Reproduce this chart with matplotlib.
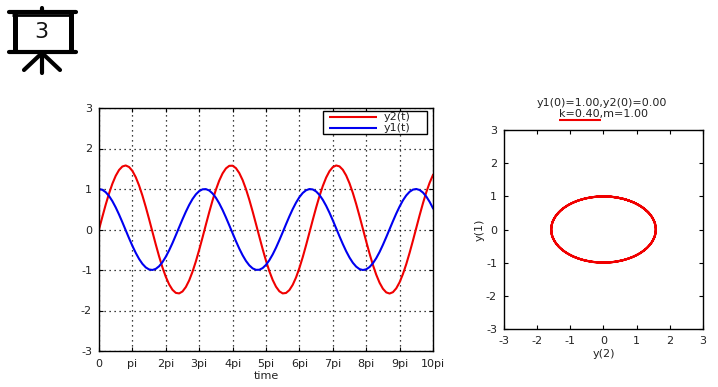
import matplotlib
matplotlib.use("Agg")
import matplotlib.pyplot as plt
from matplotlib.patches import Rectangle

W, H = 718, 387

# time in units of pi, read every 0.1pi
t_pi = [i / 10 for i in range(101)]

y1 = [1.000, 0.980, 0.922, 0.828, 0.701, 0.546, 0.370, 0.179, -0.019, -0.216,
      -0.404, -0.577, -0.727, -0.848, -0.936, -0.987, -0.999, -0.972, -0.907, -0.806,
      -0.673, -0.514, -0.335, -0.142, 0.056, 0.252, 0.438, 0.607, 0.752, 0.867,
      0.948, 0.992, 0.997, 0.963, 0.890, 0.783, 0.645, 0.482, 0.299, 0.105,
      -0.093, -0.288, -0.472, -0.636, -0.776, -0.885, -0.960, -0.996, -0.994, -0.952,
      -0.873, -0.759, -0.616, -0.449, -0.263, -0.068, 0.131, 0.324, 0.504, 0.664,
      0.799, 0.902, 0.969, 0.999, 0.989, 0.940, 0.854, 0.734, 0.586, 0.415,
      0.227, 0.030, -0.168, -0.359, -0.536, -0.692, -0.821, -0.917, -0.978, -1.000,
      -0.983, -0.927, -0.834, -0.709, -0.556, -0.380, -0.190, 0.007, 0.204, 0.394,
      0.567, 0.720, 0.842, 0.932, 0.985, 1.000, 0.975, 0.912, 0.813, 0.682, 0.524]

y2 = [0.000, 0.311, 0.612, 0.887, 1.129, 1.325, 1.469, 1.556, 1.581, 1.543,
      1.447, 1.292, 1.086, 0.838, 0.557, 0.255, -0.058, -0.370, -0.666, -0.936,
      -1.168, -1.356, -1.489, -1.565, -1.578, -1.530, -1.421, -1.257, -1.042, -0.787,
      -0.501, -0.196, 0.119, 0.427, 0.719, 0.983, 1.208, 1.385, 1.508, 1.572,
      1.575, 1.515, 1.394, 1.221, 0.998, 0.735, 0.444, 0.136, -0.177, -0.484,
      -0.772, -1.029, -1.246, -1.413, -1.526, -1.578, -1.567, -1.496, -1.366, -1.183,
      -0.950, -0.683, -0.387, -0.077, 0.236, 0.539, 0.822, 1.072, 1.281, 1.439,
      1.540, 1.581, 1.559, 1.475, 1.334, 1.141, 0.903, 0.629, 0.330, 0.019,
      -0.294, -0.594, -0.873, -1.115, -1.314, -1.462, -1.553, -1.581, -1.548, -1.453,
      -1.303, -1.099, -0.854, -0.574, -0.272, 0.041, 0.353, 0.650, 0.922, 1.156, 1.347]

x_ticks = [0, 1, 2, 3, 4, 5, 6, 7, 8, 9, 10]
x_labels = ["0", "pi", "2pi", "3pi", "4pi", "5pi", "6pi", "7pi", "8pi", "9pi", "10pi"]
y_ticks = [-3, -2, -1, 0, 1, 2, 3]

RED = "#f00000"
BLUE = "#0000f0"
TXT = "#222222"

plt.rcParams["font.family"] = "DejaVu Sans"
plt.rcParams["font.size"] = 8
plt.rcParams["axes.unicode_minus"] = False
plt.rcParams["path.simplify"] = False


def px_axes(fig, x0, y0, x1, y1_):
    # axes placed by pixel box, y measured from the top
    return fig.add_axes([x0 / W, 1 - y1_ / H, (x1 - x0) / W, (y1_ - y0) / H])


def style(ax):
    ax.tick_params(direction="in", top=True, right=True, length=3, width=0.8,
                   pad=5, labelsize=8, color="black", labelcolor=TXT)
    for s in ax.spines.values():
        s.set_linewidth(1.0)


fig = plt.figure(figsize=(W / 100, H / 100), dpi=100)

ax1 = px_axes(fig, 99, 108, 433, 351)
ax1.plot(t_pi, y2, color=RED, lw=1.5)
ax1.plot(t_pi, y1, color=BLUE, lw=1.5)
ax1.set_xlim(0, 10)
ax1.set_ylim(-3, 3)
ax1.set_xticks(x_ticks)
ax1.set_xticklabels(x_labels)
ax1.set_yticks(y_ticks)
ax1.grid(True, color="black", linestyle=(0, (1, 3)), linewidth=0.9)
ax1.set_axisbelow(True)
style(ax1)
ax1.tick_params(axis="x", pad=6)
ax1.set_xlabel("time", labelpad=1, fontsize=8, color=TXT)

ax2 = px_axes(fig, 504, 130, 703, 329)
ax2.plot(y2, y1, color=RED, lw=1.5)
ax2.set_xlim(-3, 3)
ax2.set_ylim(-3, 3)
ax2.set_xticks(y_ticks)
ax2.set_yticks(y_ticks)
style(ax2)
ax2.set_xlabel("y(2)", labelpad=2, fontsize=8, color=TXT)
ax2.set_ylabel("y(1)", labelpad=1, fontsize=8, color=TXT)

# overlay in pixel coordinates for the legend, icon, heading and underline
ov = fig.add_axes([0, 0, 1, 1], zorder=5)
ov.set_xlim(0, W)
ov.set_ylim(H, 0)
ov.axis("off")
ov.patch.set_alpha(0)

ov.add_patch(Rectangle((322.5, 110.5), 104.5, 23.5, facecolor="white", edgecolor="black", lw=1.0))
ov.plot([329, 377], [116.5, 116.5], color=RED, lw=1.5, solid_capstyle="butt")
ov.plot([329, 377], [128, 128], color=BLUE, lw=1.5, solid_capstyle="butt")
ov.text(384, 116.5, "y2(t)", ha="left", va="center", fontsize=8, color=TXT)
ov.text(384, 128, "y1(t)", ha="left", va="center", fontsize=8, color=TXT)

ov.text(602, 102.5, "y1(0)=1.00,y2(0)=0.00", ha="center", va="center", fontsize=8, color=TXT)
ov.text(603, 114.5, "k=0.40,m=1.00", ha="center", va="center", fontsize=8, color=TXT)
ov.plot([559, 601], [120, 120], color=RED, lw=1.5, solid_capstyle="butt")

icon = dict(color="black", lw=3.0, solid_capstyle="round")
ov.plot([9, 76], [12, 12], **icon)
ov.plot([9, 76], [52, 52], **icon)
ov.plot([42, 42], [8, 12], **icon)
ov.plot([12, 73], [14.5, 14.5], color="black", lw=2.0, solid_capstyle="butt")
ov.plot([14.5, 14.5], [12, 52], color="black", lw=3.6, solid_capstyle="butt")
ov.plot([70.5, 70.5], [12, 52], color="black", lw=3.6, solid_capstyle="butt")
ov.plot([42, 42], [53, 73], **icon)
ov.plot([42, 24], [53, 70], **icon)
ov.plot([42, 60], [53, 70], **icon)
ov.text(41, 32.5, "3", ha="center", va="center", fontsize=16, color="#111111")

fig.savefig("out.png", dpi=100)
